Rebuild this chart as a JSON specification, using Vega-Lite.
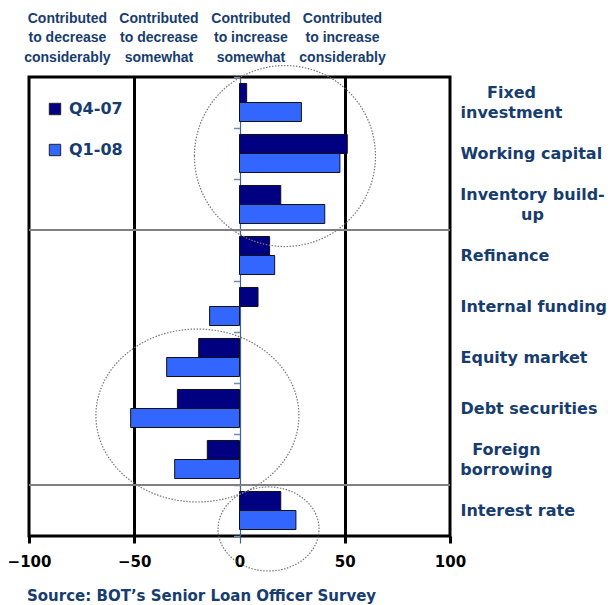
{
  "$schema": "https://vega.github.io/schema/vega-lite/v6.json",
  "width": 421,
  "height": 459,
  "autosize": {"type": "none"},
  "padding": {"left": 29, "top": 77, "right": 161, "bottom": 69},
  "background": "white",
  "config": {"view": {"stroke": "black", "strokeWidth": 3}, "font": "DejaVu Sans"},
  "title": {"text": "Source: BOT’s Senior Loan Officer Survey", "orient": "bottom", "anchor": "start", "frame": "group", "font": "DejaVu Sans", "fontSize": 15, "fontWeight": "bold", "color": "#173d6e", "offset": 16, "dx": -2},
  "datasets": {
    "bars": [
      {"category": "Fixed investment", "series": "Q4-07", "value": 3.4},
      {"category": "Fixed investment", "series": "Q1-08", "value": 29.4},
      {"category": "Working capital", "series": "Q4-07", "value": 51.2},
      {"category": "Working capital", "series": "Q1-08", "value": 47.7},
      {"category": "Inventory build-up", "series": "Q4-07", "value": 19.6},
      {"category": "Inventory build-up", "series": "Q1-08", "value": 40.5},
      {"category": "Refinance", "series": "Q4-07", "value": 14.3},
      {"category": "Refinance", "series": "Q1-08", "value": 16.7},
      {"category": "Internal funding", "series": "Q4-07", "value": 8.8},
      {"category": "Internal funding", "series": "Q1-08", "value": -14.2},
      {"category": "Equity market", "series": "Q4-07", "value": -19.4},
      {"category": "Equity market", "series": "Q1-08", "value": -34.6},
      {"category": "Debt securities", "series": "Q4-07", "value": -29.5},
      {"category": "Debt securities", "series": "Q1-08", "value": -51.7},
      {"category": "Foreign borrowing", "series": "Q4-07", "value": -15.3},
      {"category": "Foreign borrowing", "series": "Q1-08", "value": -30.8},
      {"category": "Interest rate", "series": "Q4-07", "value": 19.6},
      {"category": "Interest rate", "series": "Q1-08", "value": 26.8}
    ],
    "separators": [{"category": "Refinance"}, {"category": "Interest rate"}],
    "highlights": [
      {"group": "a", "category": "Working capital", "value": 21.6},
      {"group": "b", "category": "Debt securities", "value": -20},
      {"group": "c", "category": "Interest rate", "value": 13.8}
    ]
  },
  "resolve": {"axis": {"x": "independent", "y": "independent"}},
  "layer": [
    {
      "data": {"name": "separators"},
      "mark": {"type": "rule", "color": "#808080", "strokeWidth": 2},
      "encoding": {
        "y": {"field": "category", "type": "nominal", "bandPosition": 0,
          "scale": {"domain": ["Fixed investment", "Working capital", "Inventory build-up", "Refinance", "Internal funding", "Equity market", "Debt securities", "Foreign borrowing", "Interest rate"], "paddingInner": 0, "paddingOuter": 0},
          "axis": {"orient": "left", "offset": -210.5, "labels": false, "domain": false, "ticks": true, "tickBand": "extent", "tickSize": 6, "tickColor": "#6f8fb0", "tickWidth": 1.5, "title": null, "grid": false}}
      }
    },
    {
      "data": {"name": "bars"},
      "mark": {"type": "bar", "stroke": "#111111", "strokeWidth": 1},
      "encoding": {
        "y": {"field": "category", "type": "nominal",
          "scale": {"domain": ["Fixed investment", "Working capital", "Inventory build-up", "Refinance", "Internal funding", "Equity market", "Debt securities", "Foreign borrowing", "Interest rate"], "paddingInner": 0, "paddingOuter": 0},
          "axis": {"orient": "right", "title": null, "domain": false, "ticks": false, "tickSize": 0,
            "labelPadding": {"condition": [
              {"test": "datum.value == 'Fixed investment'", "value": 61},
              {"test": "datum.value == 'Inventory build-up'", "value": 82},
              {"test": "datum.value == 'Foreign borrowing'", "value": 56}
            ], "value": 10},
            "labelAlign": {"condition": {"test": "datum.value == 'Fixed investment' || datum.value == 'Inventory build-up' || datum.value == 'Foreign borrowing'", "value": "center"}, "value": "left"},
            "labelOffset": {"condition": {"test": "datum.value == 'Fixed investment' || datum.value == 'Inventory build-up' || datum.value == 'Foreign borrowing'", "value": -10}, "value": 0},
            "labelBaseline": "middle", "labelFont": "DejaVu Sans", "labelFontSize": 16, "labelFontWeight": "bold", "labelColor": "#173d6e", "labelLineHeight": 20, "labelLimit": 300,
            "labelExpr": "datum.value == 'Fixed investment' ? ['Fixed', 'investment'] : datum.value == 'Inventory build-up' ? ['Inventory build-', 'up'] : datum.value == 'Foreign borrowing' ? ['Foreign', 'borrowing'] : datum.label"}},
        "yOffset": {"field": "series", "type": "nominal", "scale": {"domain": ["Q4-07", "Q1-08"], "paddingInner": 0, "paddingOuter": 0.34}},
        "x": {"field": "value", "type": "quantitative",
          "scale": {"domain": [-100, 100], "nice": false},
          "axis": {"orient": "bottom", "values": [-100, -50, 0, 50, 100], "title": null, "domain": false, "grid": true,
            "gridColor": {"condition": {"test": "datum.value == 0", "value": "#3d6190"}, "value": "black"},
            "gridWidth": {"condition": {"test": "datum.value == 0", "value": 1.2}, "value": 3},
            "gridOpacity": {"condition": {"test": "abs(datum.value) == 100", "value": 0}, "value": 1},
            "tickColor": {"condition": {"test": "datum.value == 0", "value": "#3d6190"}, "value": "black"},
            "tickWidth": {"condition": {"test": "datum.value == 0", "value": 1.2}, "value": 3},
            "tickSize": 7, "labelFont": "DejaVu Sans", "labelFontSize": 15, "labelFontWeight": "bold", "labelColor": "black", "labelPadding": 11, "labelFlush": false}},
        "color": {"field": "series", "type": "nominal",
          "scale": {"domain": ["Q4-07", "Q1-08"], "range": ["#000080", "#3366ff"]},
          "legend": {"orient": "none", "legendX": 18, "legendY": 24, "title": null, "symbolType": "square", "symbolSize": 130, "symbolStrokeColor": "#222222", "symbolStrokeWidth": 1, "labelFont": "DejaVu Sans", "labelFontSize": 16, "labelFontWeight": "bold", "labelColor": "#173d6e", "labelOffset": 6, "rowPadding": 25, "padding": 0}}
      }
    },
    {
      "data": {"name": "highlights"},
      "transform": [{"filter": "datum.group == 'a'"}],
      "mark": {"type": "point", "shape": "M -1 0.028 A 1 1 0 1 1 1 0.028 A 1 1 0 1 1 -1 0.028 Z", "size": 32761, "filled": false, "opacity": 1, "stroke": "#777777", "strokeWidth": 1.2, "strokeDash": [1.5, 1.5]},
      "encoding": {
        "x": {"field": "value", "type": "quantitative", "scale": {"domain": [-100, 100], "nice": false},
          "axis": {"orient": "top", "values": [-82, -38.5, 5.2, 48.7], "title": null, "domain": false, "ticks": false, "tickSize": 0, "grid": false, "labelPadding": 52, "labelFont": "Liberation Sans", "labelFontSize": 14, "labelFontWeight": "bold", "labelColor": "#173d6e", "labelLineHeight": 19.5, "labelOverlap": false, "labelBound": false, "labelFlush": false,
            "labelExpr": "datum.value < -60 ? ['Contributed', 'to decrease', 'considerably'] : datum.value < -20 ? ['Contributed', 'to decrease', 'somewhat'] : datum.value < 20 ? ['Contributed', 'to increase', 'somewhat'] : ['Contributed', 'to increase', 'considerably']"}},
        "y": {"field": "category", "type": "nominal", "axis": null,
          "scale": {"domain": ["Fixed investment", "Working capital", "Inventory build-up", "Refinance", "Internal funding", "Equity market", "Debt securities", "Foreign borrowing", "Interest rate"], "paddingInner": 0, "paddingOuter": 0}}
      }
    },
    {
      "data": {"name": "highlights"},
      "transform": [{"filter": "datum.group == 'b'"}],
      "mark": {"type": "point", "shape": "M -1 0.069 A 1 0.852 0 1 1 1 0.069 A 1 0.852 0 1 1 -1 0.069 Z", "size": 41209, "filled": false, "opacity": 1, "stroke": "#777777", "strokeWidth": 1.2, "strokeDash": [1.5, 1.5]},
      "encoding": {
        "x": {"field": "value", "type": "quantitative", "scale": {"domain": [-100, 100], "nice": false}, "axis": null},
        "y": {"field": "category", "type": "nominal", "axis": null,
          "scale": {"domain": ["Fixed investment", "Working capital", "Inventory build-up", "Refinance", "Internal funding", "Equity market", "Debt securities", "Foreign borrowing", "Interest rate"], "paddingInner": 0, "paddingOuter": 0}}
      }
    },
    {
      "data": {"name": "highlights"},
      "transform": [{"filter": "datum.group == 'c'"}],
      "mark": {"type": "point", "shape": "M -1 0.366 A 1 0.832 0 1 1 1 0.366 A 1 0.832 0 1 1 -1 0.366 Z", "size": 10201, "filled": false, "opacity": 1, "stroke": "#777777", "strokeWidth": 1.2, "strokeDash": [1.5, 1.5]},
      "encoding": {
        "x": {"field": "value", "type": "quantitative", "scale": {"domain": [-100, 100], "nice": false}, "axis": null},
        "y": {"field": "category", "type": "nominal", "axis": null,
          "scale": {"domain": ["Fixed investment", "Working capital", "Inventory build-up", "Refinance", "Internal funding", "Equity market", "Debt securities", "Foreign borrowing", "Interest rate"], "paddingInner": 0, "paddingOuter": 0}}
      }
    }
  ]
}
